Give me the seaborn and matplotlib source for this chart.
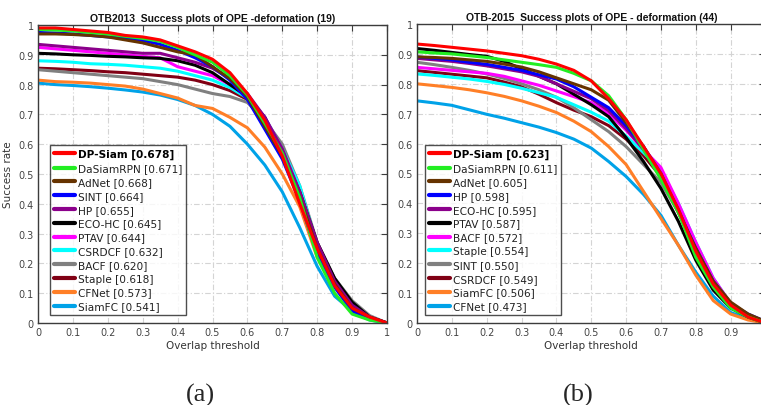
import numpy as np
import pandas as pd
import seaborn as sns
import matplotlib.pyplot as plt
from matplotlib.lines import Line2D

# Overlap thresholds at which success rate is evaluated
thresholds = [0.00, 0.05, 0.10, 0.15, 0.20, 0.25, 0.30, 0.35, 0.40, 0.45, 0.50,
              0.55, 0.60, 0.65, 0.70, 0.75, 0.80, 0.85, 0.90, 0.95, 1.00]

# Colours by rank (1st .. 12th)
rank_colors = ["#ff0000", "#22ee22", "#663300", "#0000ff", "#8b008b", "#000000",
               "#ff00ff", "#00ffff", "#808080", "#800014", "#ff7f27", "#00a2e8"]

# ---- OTB2013, deformation (19) ----
otb13_names = ["DP-Siam", "DaSiamRPN", "AdNet", "SINT", "HP", "ECO-HC",
               "PTAV", "CSRDCF", "BACF", "Staple", "CFNet", "SiamFC"]
otb13_auc = ["0.678", "0.671", "0.668", "0.664", "0.655", "0.645",
             "0.644", "0.632", "0.620", "0.618", "0.573", "0.541"]
otb13_dpsiam = [.99, .99, .985, .98, .975, .965, .96, .95, .93, .91, .885, .84, .77, .68, .56, .40, .25, .125, .05, .02, 0]
otb13_dasiamrpn = [.985, .983, .98, .975, .97, .962, .955, .945, .925, .9, .875, .83, .765, .67, .57, .42, .22, .10, .03, .01, 0]
otb13_adnet = [.97, .97, .968, .965, .96, .95, .94, .925, .91, .9, .86, .82, .76, .66, .56, .42, .25, .13, .05, .02, 0]
otb13_sint = [.975, .973, .97, .965, .96, .955, .948, .935, .915, .89, .86, .815, .75, .65, .55, .41, .23, .12, .04, .015, 0]
otb13_hp = [.935, .93, .925, .92, .915, .91, .905, .905, .89, .875, .855, .82, .77, .69, .585, .44, .27, .14, .06, .02, 0]
otb13_ecohc = [.905, .903, .9, .898, .895, .893, .89, .888, .88, .865, .84, .8, .76, .69, .57, .44, .27, .15, .07, .02, 0]
otb13_ptav = [.925, .92, .915, .91, .905, .9, .895, .89, .86, .845, .83, .8, .76, .69, .58, .44, .26, .13, .06, .02, 0]
otb13_csrdcf = [.88, .878, .875, .87, .868, .865, .86, .855, .845, .83, .815, .79, .755, .69, .585, .46, .26, .14, .065, .015, 0]
otb13_bacf = [.85, .845, .84, .835, .83, .825, .82, .81, .8, .785, .77, .76, .74, .68, .6, .46, .27, .15, .075, .025, 0]
otb13_staple = [.855, .853, .85, .847, .843, .84, .835, .83, .825, .815, .8, .78, .75, .68, .58, .44, .25, .13, .06, .02, 0]
otb13_cfnet = [.815, .81, .808, .805, .8, .795, .785, .77, .755, .73, .72, .69, .655, .59, .5, .39, .22, .13, .05, .02, 0]
otb13_siamfc = [.805, .8, .797, .793, .788, .782, .775, .765, .75, .73, .7, .66, .6, .53, .44, .32, .19, .09, .04, .01, 0]
otb13_curves = [otb13_dpsiam, otb13_dasiamrpn, otb13_adnet, otb13_sint, otb13_hp, otb13_ecohc,
                otb13_ptav, otb13_csrdcf, otb13_bacf, otb13_staple, otb13_cfnet, otb13_siamfc]

# ---- OTB-2015, deformation (44) ----
otb15_names = ["DP-Siam", "DaSiamRPN", "AdNet", "HP", "ECO-HC", "PTAV",
               "BACF", "Staple", "SINT", "CSRDCF", "SiamFC", "CFNet"]
otb15_auc = ["0.623", "0.611", "0.605", "0.598", "0.595", "0.587",
             "0.572", "0.554", "0.550", "0.549", "0.506", "0.473"]
otb15_dpsiam = [.933, .928, .922, .916, .91, .902, .894, .882, .866, .845, .81, .75, .68, .59, .5, .38, .24, .13, .06, .02, 0]
otb15_dasiamrpn = [.907, .903, .9, .894, .888, .88, .872, .864, .855, .835, .81, .76, .68, .58, .48, .37, .22, .12, .05, .02, 0]
otb15_adnet = [.89, .888, .885, .88, .875, .866, .856, .84, .82, .8, .78, .745, .67, .59, .49, .37, .25, .14, .07, .03, .005]
otb15_hp = [.89, .885, .88, .872, .865, .855, .845, .83, .816, .79, .755, .72, .66, .59, .5, .375, .25, .14, .065, .03, .005]
otb15_ecohc = [.885, .88, .875, .868, .86, .85, .84, .825, .8, .775, .75, .71, .65, .58, .49, .38, .24, .135, .06, .025, .005]
otb15_ptav = [.918, .912, .905, .898, .892, .875, .85, .825, .8, .765, .73, .69, .62, .54, .45, .34, .21, .11, .05, .02, 0]
otb15_bacf = [.855, .85, .845, .84, .835, .825, .81, .795, .776, .757, .737, .7, .645, .58, .52, .4, .27, .15, .065, .025, .005]
otb15_staple = [.833, .828, .822, .816, .808, .798, .785, .77, .755, .73, .705, .675, .625, .57, .51, .4, .27, .15, .065, .025, .005]
otb15_sint = [.872, .864, .855, .845, .833, .818, .8, .78, .755, .72, .68, .64, .59, .53, .47, .37, .245, .14, .065, .025, .005]
otb15_csrdcf = [.844, .838, .832, .826, .82, .806, .79, .765, .737, .712, .69, .66, .615, .56, .49, .39, .26, .145, .065, .025, .005]
otb15_siamfc = [.8, .794, .788, .78, .77, .758, .743, .725, .704, .675, .64, .59, .53, .44, .35, .26, .16, .075, .03, .01, 0]
otb15_cfnet = [.743, .736, .728, .713, .698, .685, .67, .655, .637, .615, .585, .54, .49, .43, .36, .26, .17, .09, .035, .015, 0]
otb15_curves = [otb15_dpsiam, otb15_dasiamrpn, otb15_adnet, otb15_hp, otb15_ecohc, otb15_ptav,
                otb15_bacf, otb15_staple, otb15_sint, otb15_csrdcf, otb15_siamfc, otb15_cfnet]

tick_values = [0, 0.1, 0.2, 0.3, 0.4, 0.5, 0.6, 0.7, 0.8, 0.9, 1]
tick_labels = ["0", "0.1", "0.2", "0.3", "0.4", "0.5", "0.6", "0.7", "0.8", "0.9", "1"]


def long_table(names, curves):
    rows = []
    for name, vals in zip(names, curves):
        for t, v in zip(thresholds, vals):
            rows.append({"tracker": name, "threshold": t, "success": v})
    return pd.DataFrame(rows)


sns.set_style("white")
plt.rcParams["font.family"] = ["DejaVu Sans"]

fig = plt.figure(figsize=(7.61, 4.06), dpi=100)
ax1 = fig.add_axes([38 / 761, 1 - 324 / 406, 349 / 761, 298 / 406])
ax2 = fig.add_axes([417 / 761, 1 - 324 / 406, 348.5 / 761, 299 / 406])

panels = [
    (ax1, otb13_names, otb13_auc, otb13_curves,
     "OTB2013  Success plots of OPE -deformation (19)", True, 0.034, tick_labels),
    (ax2, otb15_names, otb15_auc, otb15_curves,
     "OTB-2015  Success plots of OPE - deformation (44)", False, 0.023,
     tick_labels[:-1] + [""]),
]

spine_col = "#3c3c3c"
tick_col = "#444444"

for ax, names, aucs, curves, title, show_ylabel, leg_x, xlabels in panels:
    df = long_table(names, curves)
    palette = dict(zip(names, rank_colors))
    # draw lowest ranked first so the leaders sit on top
    for name in names[::-1]:
        sns.lineplot(data=df[df["tracker"] == name], x="threshold", y="success",
                     color=palette[name], linewidth=2.2, ax=ax, legend=False,
                     estimator=None, sort=True)
    ax.set_xlim(0, 1)
    ax.set_ylim(0, 1)
    ax.set_xticks(tick_values)
    ax.set_yticks(tick_values)
    ax.set_xticklabels(xlabels)
    ax.set_yticklabels(tick_labels)
    ax.grid(True, color="#d4d4d4", linestyle=(0, (5, 2, 1, 2)), linewidth=0.8)
    ax.set_axisbelow(True)
    ax.tick_params(direction="in", top=True, right=True, length=4, width=0.8,
                   colors=spine_col, labelcolor=tick_col, labelsize=7, pad=3)
    for sp in ax.spines.values():
        sp.set_color(spine_col)
        sp.set_linewidth(1.0)
        sp.set_visible(True)
    ax.set_xlabel("Overlap threshold", fontsize=7.5, color="#333333", labelpad=2)
    if show_ylabel:
        ax.set_ylabel("Success rate", fontsize=7.5, color="#333333", labelpad=4)
    else:
        ax.set_ylabel("")
    ax.set_title(title, fontsize=7.5, fontweight="bold", family="Liberation Sans",
                 color="#111111", pad=3)

    handles = [Line2D([0], [0], color=palette[n], linewidth=3) for n in names]
    labels = [f"{n} [{a}]" for n, a in zip(names, aucs)]
    leg = ax.legend(handles, labels, loc="lower left", bbox_to_anchor=(leg_x, 0.027),
                    borderaxespad=0, fontsize=7.6, frameon=True, fancybox=False,
                    handlelength=2.0, handletextpad=0.3, labelspacing=0.36,
                    borderpad=0.35)
    leg.get_frame().set_edgecolor("#222222")
    leg.get_frame().set_linewidth(1.0)
    for i, txt in enumerate(leg.get_texts()):
        txt.set_color("#222222")
        if i == 0:
            txt.set_fontweight("bold")
            txt.set_color("#000000")

fig.text(200 / 761, 1 - 395 / 406, "(a)", ha="center", va="center",
         fontsize=19, family="Liberation Serif")
fig.text(578 / 761, 1 - 395 / 406, "(b)", ha="center", va="center",
         fontsize=19, family="Liberation Serif")

fig.savefig("out.png", dpi=100)
